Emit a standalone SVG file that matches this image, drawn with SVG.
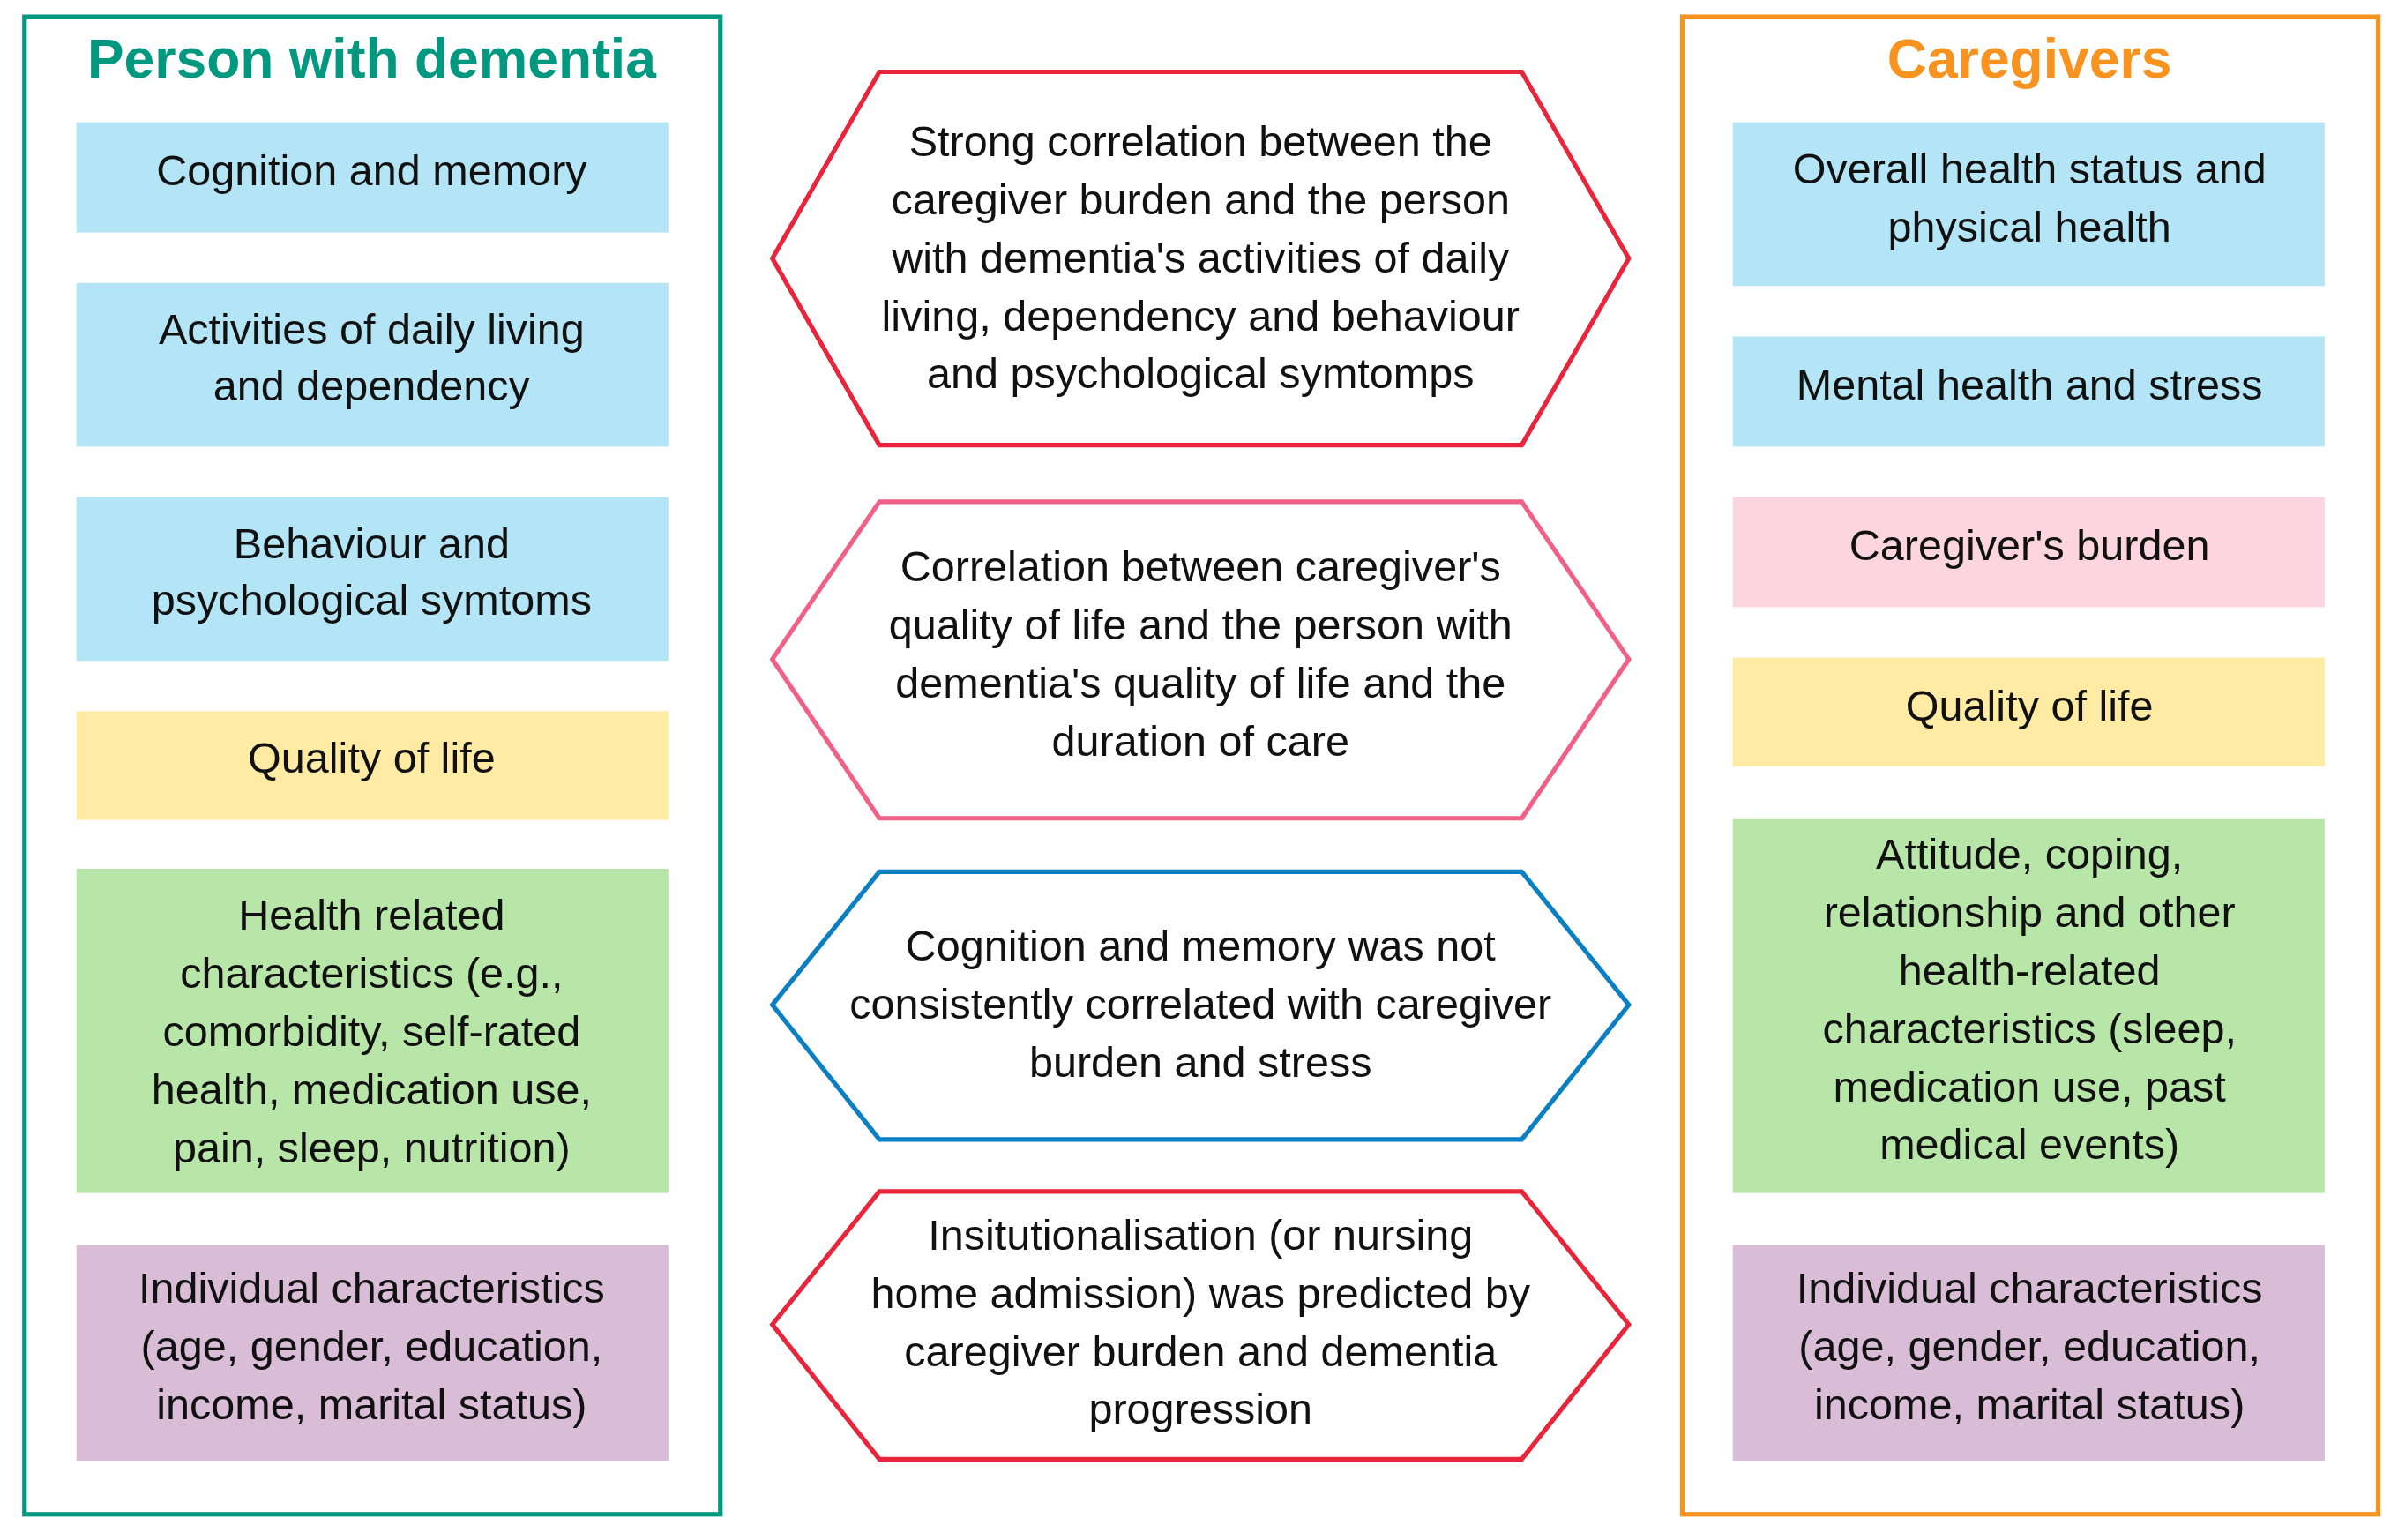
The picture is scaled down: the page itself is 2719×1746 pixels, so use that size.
<svg xmlns="http://www.w3.org/2000/svg" width="2719" height="1746" viewBox="0 0 2719 1746">
<style>
text{font-family:"Liberation Sans",Arial,sans-serif;font-size:28px;text-anchor:middle;fill:#111}
.t{font-weight:bold;font-size:36px}
.hex{fill:#fff;stroke-width:3}
.frame{fill:none;stroke-width:3}
</style>
<rect width="2719" height="1746" fill="#fff"/>
<g transform="scale(1.7341)">
<g id="left">
<rect class="frame" x="16" y="11" width="455" height="979" stroke="#009980"/>
<text class="t" x="243" y="51" style="fill:#009980">Person with dementia</text>
</g>
<g id="l1"><rect x="50" y="80" width="387" height="72" fill="#B3E5F7"/><text x="243" y="121">Cognition and memory</text></g>
<g id="l2"><rect x="50" y="185" width="387" height="107" fill="#B3E5F7"/><text x="243" y="225">Activities of daily living</text><text x="243" y="262">and dependency</text></g>
<g id="l3"><rect x="50" y="325" width="387" height="107" fill="#B3E5F7"/><text x="243" y="365">Behaviour and</text><text x="243" y="402">psychological symtoms</text></g>
<g id="l4"><rect x="50" y="465" width="387" height="71" fill="#FFEBA3"/><text x="243" y="505">Quality of life</text></g>
<g id="l5"><rect x="50" y="568" width="387" height="212" fill="#B8E6A8"/><text x="243" y="608">Health related</text><text x="243" y="646">characteristics (e.g.,</text><text x="243" y="684">comorbidity, self-rated</text><text x="243" y="722">health, medication use,</text><text x="243" y="760">pain, sleep, nutrition)</text></g>
<g id="l6"><rect x="50" y="814" width="387" height="141" fill="#D9BCD6"/><text x="243" y="852">Individual characteristics</text><text x="243" y="890">(age, gender, education,</text><text x="243" y="928">income, marital status)</text></g>

<g id="right">
<rect class="frame" x="1100" y="11" width="455" height="979" stroke="#F7931E"/>
<text class="t" x="1327" y="51" style="fill:#F7931E">Caregivers</text>
</g>
<g id="r1"><rect x="1133" y="80" width="387" height="107" fill="#B3E5F7"/><text x="1327" y="120">Overall health status and</text><text x="1327" y="158">physical health</text></g>
<g id="r2"><rect x="1133" y="220" width="387" height="72" fill="#B3E5F7"/><text x="1327" y="261">Mental health and stress</text></g>
<g id="r3"><rect x="1133" y="325" width="387" height="72" fill="#FDD5E0"/><text x="1327" y="366">Caregiver's burden</text></g>
<g id="r4"><rect x="1133" y="430" width="387" height="71" fill="#FFEBA3"/><text x="1327" y="471">Quality of life</text></g>
<g id="r5"><rect x="1133" y="535" width="387" height="245" fill="#B8E6A8"/><text x="1327" y="568">Attitude, coping,</text><text x="1327" y="606">relationship and other</text><text x="1327" y="644">health-related</text><text x="1327" y="682">characteristics (sleep,</text><text x="1327" y="720">medication use, past</text><text x="1327" y="758">medical events)</text></g>
<g id="r6"><rect x="1133" y="814" width="387" height="141" fill="#D9BCD6"/><text x="1327" y="852">Individual characteristics</text><text x="1327" y="890">(age, gender, education,</text><text x="1327" y="928">income, marital status)</text></g>

<g id="h1"><polygon class="hex" stroke="#E8253A" points="575,47 995,47 1065,169 995,291 575,291 505,169"/>
<g style="fill:#E8253A"><text x="785" y="102" fill="#E8253A">Strong correlation between the</text><text x="785" y="140" fill="#E8253A">caregiver burden and the person</text><text x="785" y="178" fill="#E8253A">with dementia's activities of daily</text><text x="785" y="216" fill="#E8253A">living, dependency and behaviour</text><text x="785" y="254" fill="#E8253A">and psychological symtomps</text></g></g>
<g id="h2"><polygon class="hex" stroke="#F06087" points="575,328 995,328 1065,431 995,535 575,535 505,431"/>
<text x="785" y="380" fill="#F06087">Correlation between caregiver's</text><text x="785" y="418" fill="#F06087">quality of life and the person with</text><text x="785" y="456" fill="#F06087">dementia's quality of life and the</text><text x="785" y="494" fill="#F06087">duration of care</text></g>
<g id="h3"><polygon class="hex" stroke="#0A7FC4" points="575,570 995,570 1065,657 995,745 575,745 505,657"/>
<text x="785" y="628" fill="#0A7FC4">Cognition and memory was not</text><text x="785" y="666" fill="#0A7FC4">consistently correlated with caregiver</text><text x="785" y="704" fill="#0A7FC4">burden and stress</text></g>
<g id="h4"><polygon class="hex" stroke="#E8253A" points="575,779 995,779 1065,866 995,954 575,954 505,866"/>
<text x="785" y="817" fill="#E8253A">Insitutionalisation (or nursing</text><text x="785" y="855" fill="#E8253A">home admission) was predicted by</text><text x="785" y="893" fill="#E8253A">caregiver burden and dementia</text><text x="785" y="931" fill="#E8253A">progression</text></g>
</g>
<g id="connectors"/>
</svg>
